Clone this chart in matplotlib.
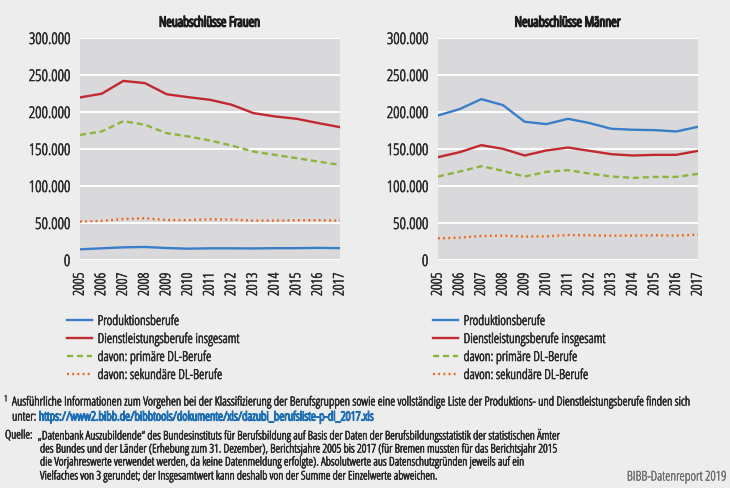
import matplotlib.pyplot as plt
import matplotlib.ticker as mticker
import matplotlib.patheffects as pe

plt.rcParams['font.family'] = ['Open Sans', 'DejaVu Sans']
plt.rcParams['font.stretch'] = 'condensed'

# Data (in Tausend)
years = list(range(2005, 2018))

frauen_prod = [14.4, 15.8, 17.1, 17.6, 16.2, 15.3, 15.8, 15.8, 15.6, 16.0, 16.0, 16.4, 16.0]
frauen_dl = [219.7, 224.7, 242.0, 239.0, 224.0, 220.0, 216.5, 209.8, 198.5, 194.0, 190.8, 185.0, 179.5]
frauen_prim = [169.0, 173.7, 187.7, 182.7, 171.4, 167.0, 161.5, 154.7, 146.6, 142.0, 137.6, 133.0, 128.6]
frauen_sek = [51.9, 52.8, 55.5, 56.4, 54.0, 54.0, 55.0, 54.6, 53.2, 53.2, 53.7, 53.7, 53.2]

maenner_prod = [195.3, 203.9, 217.4, 209.3, 186.8, 183.6, 190.8, 185.0, 177.3, 176.0, 175.5, 173.7, 180.0]
maenner_dl = [139.0, 145.7, 155.2, 150.2, 141.2, 148.0, 152.0, 147.5, 143.0, 141.2, 142.1, 142.1, 147.5]
maenner_prim = [112.8, 119.5, 126.8, 120.5, 112.8, 119.1, 121.4, 116.8, 112.8, 111.0, 112.3, 112.3, 116.4]
maenner_sek = [29.3, 30.2, 32.5, 32.9, 31.6, 32.0, 33.8, 33.4, 32.9, 32.9, 33.4, 32.9, 34.3]

labels = ['Produktionsberufe', 'Dienstleistungsberufe insgesamt',
          'davon: primäre DL-Berufe', 'davon: sekundäre DL-Berufe']
colors = ['#3b7ec8', '#c1282f', '#8db43c', '#f0641f']
styles = ['-', '-', (0, (2.6, 1.6)), (0, (0.8, 1.4))]

tc = '#2b2b2b'
bg = '#ededee'


def thick(color, w=0.45):
    # the condensed face is light, a thin stroke makes it look regular
    return [pe.withStroke(linewidth=w, foreground=color)]


fig = plt.figure(figsize=(7.3, 4.88), dpi=100, facecolor=bg)


def panel(left, title, series, leg_x):
    ax = fig.add_axes([left, 1 - 260 / 488, 260 / 730, 222 / 488])
    ax.set_facecolor('#d9d9db')
    for vals, c, ls, lab in zip(series, colors, styles, labels):
        ax.plot(years, [v * 1000 for v in vals], color=c, linestyle=ls, lw=1.7, label=lab)
    ax.set_xlim(2005, 2017)
    ax.set_ylim(0, 300000)
    ax.set_yticks(range(0, 300001, 50000))
    ax.yaxis.set_major_formatter(mticker.FuncFormatter(lambda v, p: f'{int(v):,}'.replace(',', '.')))
    ax.set_xticks(years)
    ax.set_xticklabels([str(y) for y in years], rotation=90)
    ax.grid(axis='y', color='white', lw=1.4)
    ax.set_axisbelow(True)
    for s in ax.spines.values():
        s.set_visible(False)
    ax.tick_params(axis='y', length=0, labelsize=11.5, colors=tc, pad=7)
    ax.tick_params(axis='x', length=0, labelsize=10.5, colors=tc, pad=9)
    for t in ax.get_xticklabels() + ax.get_yticklabels():
        t.set_path_effects(thick(tc))
    ax.text(0.5, 1 + 15 / 222, title, transform=ax.transAxes, ha='center', va='center',
            fontsize=10, color='#1e1e1e', path_effects=thick('#1e1e1e', 1.1))
    leg = fig.legend(ax.get_lines(), labels, loc='upper left',
                     bbox_to_anchor=(leg_x / 730, 1 - 314 / 488), bbox_transform=fig.transFigure,
                     frameon=False, fontsize=9.8, handlelength=1.85, handletextpad=0.4,
                     labelspacing=0.22, borderpad=0, borderaxespad=0)
    for t in leg.get_texts():
        t.set_color(tc)
        t.set_path_effects(thick(tc))
    return ax


panel(80 / 730, 'Neuabschlüsse Frauen', [frauen_prod, frauen_dl, frauen_prim, frauen_sek], 67)
panel(438 / 730, 'Neuabschlüsse Männer', [maenner_prod, maenner_dl, maenner_prim, maenner_sek], 433)

# Fußnote
fig.text(4 / 730, 1 - 399 / 488, '1', fontsize=6.5, color=tc, va='center', path_effects=thick(tc, 0.3))
fig.text(12 / 730, 1 - 402 / 488, 'Ausführliche Informationen zum Vorgehen bei der Klassifizierung der Berufsgruppen sowie eine vollständige Liste der Produktions- und Dienstleistungsberufe finden sich',
         fontsize=9.0, color=tc, va='center', path_effects=thick(tc))
t_unter = fig.text(12 / 730, 1 - 417 / 488, 'unter: ', fontsize=9.0, color=tc, va='center',
                   path_effects=thick(tc))
plt.annotate('https://www2.bibb.de/bibbtools/dokumente/xls/dazubi_berufsliste-p-dl_2017.xls',
             xy=(1, 0), xycoords=t_unter, va='bottom', ha='left',
             fontsize=9.0, color='#1f6fb5', annotation_clip=False, path_effects=thick('#1f6fb5', 0.9))

# Quelle
fs = 8.55
quelle = ['„Datenbank Auszubildende“ des Bundesinstituts für Berufsbildung auf Basis der Daten der Berufsbildungsstatistik der statistischen Ämter',
          'des Bundes und der Länder (Erhebung zum 31. Dezember), Berichtsjahre 2005 bis 2017 (für Bremen mussten für das Berichtsjahr 2015',
          'die Vorjahreswerte verwendet werden, da keine Datenmeldung erfolgte). Absolutwerte aus Datenschutzgründen jeweils auf ein',
          'Vielfaches von 3 gerundet; der Insgesamtwert kann deshalb von der Summe der Einzelwerte abweichen.']
fig.text(5 / 730, 1 - 435 / 488, 'Quelle:', fontsize=fs, color=tc, va='center', path_effects=thick(tc))
qy = [435, 449, 462, 476]
qx = [38, 40, 40, 40]
for x, y, line in zip(qx, qy, quelle):
    fig.text(x / 730, 1 - y / 488, line, fontsize=fs, color=tc, va='center', path_effects=thick(tc))
fig.text(727 / 730, 1 - 477 / 488, 'BIBB-Datenreport 2019', fontsize=9.6, color='#6a6a6a',
         va='center', ha='right', path_effects=thick('#6a6a6a', 0.3))

fig.savefig('out.png', dpi=100, facecolor=bg)
